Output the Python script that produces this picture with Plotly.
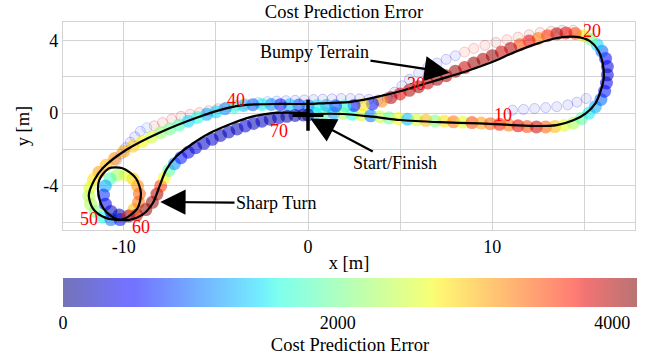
import plotly.graph_objects as go

# ---------------- data ----------------
# reference (planned) path, black line
path_x = [0.0, 1.9, 3.5, 5.0, 7.15, 9.3, 11.1, 12.4, 13.5, 14.4, 15.1, 15.6, 15.9, 16.05, 16.0, 15.75, 15.3, 14.6,
          13.5, 12.4, 11.1, 10.0, 8.6, 7.15, 5.0, 4.0, 3.0, 2.2, 1.0, 0.0, -1.5, -3.36, -4.45, -5.9, -8.07, -9.88,
          -11.15, -11.6, -11.9, -11.7, -11.15, -10.4, -9.9, -9.25, -9.07, -9.34, -10.07, -10.8, -11.33, -11.37,
          -11.06, -10.4, -9.7, -9.0, -8.43, -8.07, -7.7, -7.16, -6.5, -5.35, -3.36, -1.93, 0.0]
path_y = [-0.05, -0.05, -0.2, -0.38, -0.5, -0.57, -0.66, -0.71, -0.66, -0.4, 0.0, 0.53, 1.26, 1.9, 2.72, 3.45, 3.95, 4.18,
          4.12, 3.8, 3.3, 2.8, 2.3, 1.85, 1.2, 0.95, 0.72, 0.6, 0.55, 0.5, 0.5, 0.45, 0.26, -0.2, -1.08, -2.03,
          -3.03, -3.67, -4.5, -5.2, -5.68, -5.86, -5.77, -5.22, -4.4, -3.58, -3.03, -3.03, -3.67, -4.5,
          -5.3, -5.82, -5.86, -5.59, -4.95, -4.04, -3.12, -2.39, -1.85, -1.11, -0.29, 0.0, 0.0]

# driven trajectory (dense band)
main_x = [0.4, 0.9, 1.4, 1.9, 2.4, 2.9, 3.4, 3.9, 4.4, 4.9, 5.4, 5.9, 6.4, 6.9, 7.4, 7.9, 8.4, 8.9, 9.4, 9.9,
          10.4, 10.9, 11.4, 11.9, 12.4, 12.9, 13.4, 13.9,
          14.4, 14.85, 15.25, 15.6, 15.9, 16.1, 16.2, 16.25, 16.25, 16.15, 15.95, 15.7, 15.35, 14.95, 14.5, 14.0,
          13.5, 13.0, 12.5, 12.0, 11.5, 11.0, 10.5, 10.0, 9.5, 9.0, 8.5, 8.0, 7.5, 7.0, 6.5, 6.0, 5.5, 5.0, 4.5,
          4.0, 3.5, 3.0, 2.5, 2.0, 1.5, 1.0, 0.5, 0.0,
          -0.5, -1.0, -1.5, -2.0, -2.5, -3.0, -3.5, -4.0, -4.5, -5.0, -5.5, -6.0, -6.5, -7.0, -7.5, -8.0, -8.5,
          -9.0, -9.5, -10.0, -10.5, -10.95,
          -11.35, -11.65, -11.85, -11.9, -11.8, -11.55, -11.15, -10.7, -10.2,
          -9.7, -9.45, -9.2, -9.15, -9.25, -9.5, -9.9, -10.35, -10.75, -11.0, -11.1, -11.0, -10.7, -10.25,
          -9.75, -9.3, -8.8, -8.45, -8.2, -8.0, -7.8, -7.55, -7.25, -6.9, -6.5, -6.1, -5.65, -5.2, -4.75, -4.3,
          -3.85, -3.4, -2.95, -2.5, -2.05, -1.6, -1.15, -0.7, -0.25, 0.0]
main_y = [-0.02, 0.0, 0.0, -0.02, -0.06, -0.1, -0.15, -0.2, -0.26, -0.3, -0.34, -0.37, -0.4, -0.43, -0.45, -0.48,
          -0.5, -0.52, -0.55, -0.58, -0.62, -0.66, -0.7, -0.74, -0.76, -0.76, -0.74, -0.68,
          -0.55, -0.3, 0.0, 0.35, 0.75, 1.2, 1.65, 2.1, 2.55, 3.0, 3.4, 3.75, 4.05, 4.25, 4.37, 4.4,
          4.35, 4.25, 4.1, 3.95, 3.75, 3.55, 3.35, 3.15, 2.95, 2.75, 2.5, 2.3, 2.05, 1.85, 1.65, 1.45, 1.25, 1.05,
          0.85, 0.65, 0.5, 0.45, 0.42, 0.4, 0.4, 0.42, 0.42, 0.42,
          0.44, 0.45, 0.46, 0.47, 0.47, 0.46, 0.42, 0.34, 0.24, 0.07, -0.07, -0.24, -0.45, -0.66, -0.87, -1.08,
          -1.32, -1.57, -1.82, -2.1, -2.5, -2.85,
          -3.25, -3.65, -4.1, -4.55, -5.0, -5.4, -5.7, -5.85, -5.85,
          -5.65, -5.3, -4.9, -4.45, -4.0, -3.6, -3.4, -3.4, -3.6, -4.0, -4.5, -5.0, -5.4, -5.6,
          -5.65, -5.6, -5.3, -4.9, -4.45, -4.0, -3.55, -3.15, -2.78, -2.45, -2.15, -1.9, -1.66, -1.44, -1.23, -1.04,
          -0.87, -0.71, -0.57, -0.45, -0.34, -0.25, -0.18, -0.13, -0.1, -0.1]
main_err = [1500, 1800, 1200, 2300, 1600, 2600, 1000, 2400, 2000, 2700, 1300, 2500, 3000, 2100, 2800, 3300, 2600,
            3500, 3100, 3400, 3700, 3300, 3800, 3500, 3900, 3400, 3000, 2600,
            2300, 1900, 1500, 1200, 900, 600, 400, 300, 350, 500, 900, 1400, 2000, 2800, 3500, 3800,
            4000, 3600, 3300, 3800, 3500, 4000, 3900, 4100, 4000, 4100, 3900, 4100, 4000, 4100, 3900, 4100, 4000,
            3800, 4000, 3200, 600, 2800, 500, 1600, 800, 1200, 1500, 1100,
            800, 1300, 600, 1100, 1500, 900, 1300, 1600, 1100, 1400, 1200, 1600, 1400, 1800, 2000, 2200, 2500,
            2700, 2900, 3100, 3200, 3000,
            3100, 2800, 2600, 2400, 2300, 2100, 1600, 1000, 600,
            1200, 3000, 3300, 3400, 3200, 2900, 2600, 2300, 1800, 1200, 700, 400, 250, 150,
            3700, 3900, 4100, 4100, 4000, 3600, 2700, 1900, 1100, 600, 350, 300, 250, 300, 200, 250,
            200, 300, 200, 250, 150, 200, 100, 150, 100, 100]

# sparse, faint laps
faint_x = [14.4, 13.8, 13.2, 12.6, 12.0, 11.4, 10.8, 10.2, 9.6, 9.0, 8.5,
           8.0, 7.5, 7.0, 6.5, 6.0, 5.5, 5.1, 4.7, 4.3,
           3.8, 3.3, 2.8, 2.3, 1.8, 1.3, 0.8, 0.3, -0.2, -0.7, -1.2, -1.7, -2.2, -2.7,
           -3.4, -3.9, -4.4, -4.9, -5.4, -5.9, -6.4, -6.9, -7.4, -7.9, -8.35,
           -8.75, -9.1, -9.4, -9.65, -9.9, -10.15, -10.4,
           11.1, 11.7, 12.3, 12.9, 13.5, 14.1, 14.6, 15.1]
faint_y = [4.55, 4.55, 4.5, 4.42, 4.3, 4.17, 4.03, 3.88, 3.72, 3.55, 3.35,
           3.15, 2.95, 2.75, 2.5, 2.2, 1.85, 1.5, 1.15, 0.85,
           0.72, 0.75, 0.78, 0.8, 0.8, 0.78, 0.76, 0.74, 0.72, 0.7, 0.68, 0.66, 0.63, 0.58,
           0.5, 0.42, 0.33, 0.24, 0.13, 0.03, -0.06, -0.18, -0.33, -0.52, -0.7,
           -0.8, -1.0, -1.3, -1.6, -1.9, -2.25, -2.6,
           0.16, 0.2, 0.25, 0.3, 0.35, 0.45, 0.6, 0.8]
faint_err = [3900, 4000, 3800, 3900, 4000, 3900, 3800, 4000, 3900, 3800, 3700,
             600, 400, 500, 400, 500, 400, 450, 300, 350,
             350, 300, 250, 300, 250, 300, 250, 300, 250, 300, 400, 700, 900, 1000,
             3900, 4000, 3800, 3900, 4000, 3900, 3800, 4000, 3900, 3800, 3900,
             900, 600, 400, 500, 400, 600, 500,
             300, 400, 300, 350, 300, 400, 350, 300]

# start / finish marker
start_x = [0.0]
start_y = [-0.12]

# lap-time labels (seconds)
lap_labels = ["10", "20", "30", "40", "50", "60", "70"]
lap_lx = [10.6, 15.4, 5.85, -3.9, -11.9, -9.05, -1.6]
lap_ly = [-0.1, 4.5, 1.62, 0.71, -5.83, -6.23, -1.0]

# callouts: text, text position, arrow tip
call_text = ["Bumpy Terrain", "Start/Finish", "Sharp Turn"]
call_tx = [0.35, 4.7, -1.71]
call_ty = [3.34, -2.74, -4.93]
call_hx = [7.69, 0.12, -8.02]
call_hy = [2.22, -0.3, -4.88]

# axis ticks
x_tickvals = [-10, 0, 10]
x_ticktext = ["-10", "0", "10"]
y_tickvals = [-4, 0, 4]
y_ticktext = ["-4", "0", "4"]
cb_tickvals = [0, 2000, 4000]

CMAX = 4180

# ---------------- style ----------------
jet_stops = [(0.0, (0, 0, 128)), (0.11, (0, 0, 255)), (0.125, (0, 0, 255)), (0.34, (0, 219, 255)),
             (0.35, (0, 230, 247)), (0.375, (21, 255, 226)), (0.64, (239, 255, 8)), (0.65, (247, 245, 0)),
             (0.66, (255, 236, 0)), (0.89, (255, 19, 0)), (0.91, (232, 0, 0)), (1.0, (128, 0, 0))]


def jet(alpha):
    return [[t, f"rgba({c[0]},{c[1]},{c[2]},{alpha})"] for t, c in jet_stops]


FONT = "Liberation Serif"
GRID = "#d3d3d3"
TICKFONT = dict(family=FONT, size=18, color="black")

fig = go.Figure()

fig.add_trace(go.Scatter(
    x=faint_x, y=faint_y, mode="markers", hoverinfo="skip",
    marker=dict(size=10, color=faint_err, colorscale=jet(0.08), cmin=0, cmax=CMAX,
                line=dict(width=1, color=faint_err, colorscale=jet(0.2), cmin=0, cmax=CMAX)),
))

fig.add_trace(go.Scatter(
    x=main_x, y=main_y, mode="markers", hoverinfo="skip",
    marker=dict(size=13, color=main_err, colorscale=jet(0.55), cmin=0, cmax=CMAX,
                line=dict(width=0),
                showscale=True,
                colorbar=dict(orientation="h", x=0, xanchor="left", xpad=0, ypad=0,
                              y=-0.23, yanchor="top", len=574, lenmode="pixels",
                              thickness=29, thicknessmode="pixels", outlinewidth=0,
                              tickvals=cb_tickvals, ticks="",
                              tickfont=TICKFONT,
                              title=dict(text="Cost Prediction Error", side="bottom",
                                         font=dict(family=FONT, size=18.5, color="black")))),
))

fig.add_trace(go.Scatter(
    x=path_x, y=path_y, mode="lines", hoverinfo="skip",
    line=dict(color="black", width=2.2, shape="spline", smoothing=0.8),
))

fig.add_trace(go.Scatter(
    x=start_x, y=start_y, mode="markers", hoverinfo="skip",
    marker=dict(symbol="cross-thin", size=22, line=dict(color="black", width=3.5)),
))

for t, tx, ty, hx, hy in zip(call_text, call_tx, call_ty, call_hx, call_hy):
    fig.add_annotation(x=hx, y=hy, ax=tx, ay=ty, axref="x", ayref="y", text=t,
                       showarrow=True, arrowhead=2, arrowsize=2.3, arrowwidth=2.2,
                       arrowcolor="black", font=dict(family=FONT, size=18, color="black"))

for t, x, y in zip(lap_labels, lap_lx, lap_ly):
    fig.add_annotation(x=x, y=y, text=t, showarrow=False,
                       font=dict(family=FONT, size=18, color="red"))

fig.update_layout(
    width=652, height=358,
    margin=dict(l=63, r=17, t=22, b=128, autoexpand=False),
    plot_bgcolor="white", paper_bgcolor="white",
    font=dict(family=FONT, size=18, color="black"),
    showlegend=False,
    title=dict(text="Cost Prediction Error", xref="container", x=0.5276, yref="container",
               y=1 - 12 / 358, xanchor="center", yanchor="middle",
               font=dict(family=FONT, size=18.5, color="black")),
)

fig.update_xaxes(range=[-13.3, 17.75], tickmode="array", tickvals=x_tickvals, ticktext=x_ticktext,
                 showgrid=True, gridcolor=GRID, gridwidth=1,
                 minor=dict(tickmode="linear", tick0=0, dtick=5, showgrid=True, gridcolor=GRID, gridwidth=1),
                 zeroline=False, showline=True, mirror=True, linecolor=GRID, linewidth=1.2,
                 ticks="", automargin=False, tickfont=TICKFONT,
                 title=dict(text="x [m]", standoff=0, font=dict(family=FONT, size=18.5, color="black")))
fig.update_yaxes(range=[-6.42, 5.0], tickmode="array", tickvals=y_tickvals, ticktext=y_ticktext,
                 showgrid=True, gridcolor=GRID, gridwidth=1,
                 minor=dict(tickmode="linear", tick0=0, dtick=2, showgrid=True, gridcolor=GRID, gridwidth=1),
                 zeroline=False, showline=True, mirror=True, linecolor=GRID, linewidth=1.2,
                 ticks="", automargin=False, tickfont=TICKFONT,
                 title=dict(text="y [m]", standoff=8, font=dict(family=FONT, size=18.5, color="black")))

fig.write_html("out.html", config={"displayModeBar": False},
               post_script="document.body.style.margin='0px';")
